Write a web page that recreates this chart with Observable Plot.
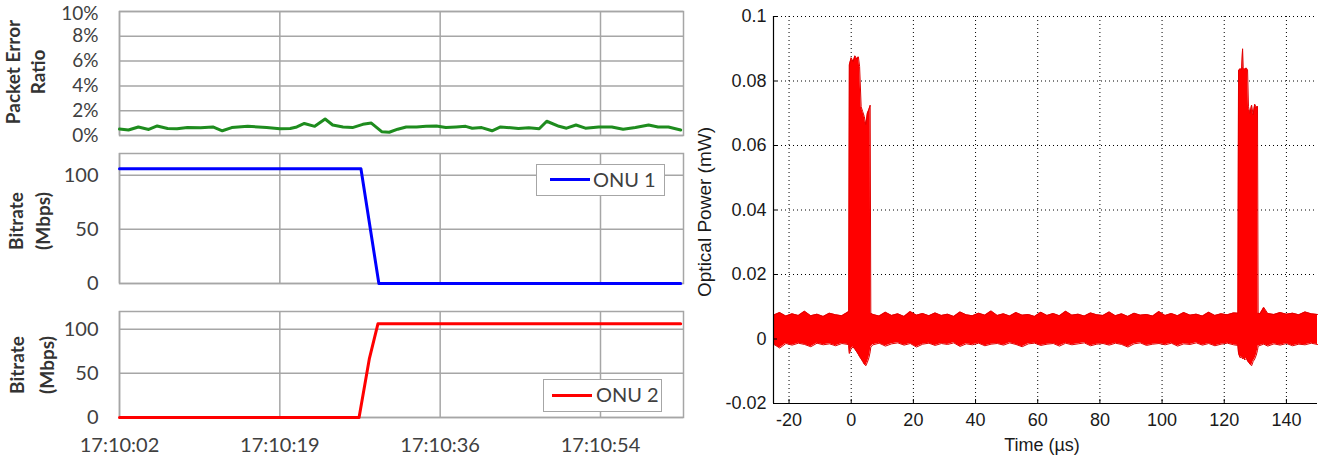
<!DOCTYPE html>
<html><head><meta charset="utf-8">
<script src="https://cdn.jsdelivr.net/npm/d3@7"></script>
<script src="https://cdn.jsdelivr.net/npm/@observablehq/plot@0.6"></script>
<style>
html,body{margin:0;padding:0;background:#fff;}
#root{position:relative;width:1326px;height:459px;overflow:hidden;background:#fff;}
.panel{position:absolute;}
.vtitle{position:absolute;transform:translate(-50%,-50%) rotate(-90deg);white-space:pre;text-align:center;}
.legend{position:absolute;border:1.5px solid #a6a6a6;background:#fff;box-sizing:border-box;font-family:Lato,"Open Sans",sans-serif;font-size:20px;color:#404040;}
.legend .sw{position:absolute;height:3px;width:40px;}
.legend .tx{position:absolute;top:0;line-height:29px;}
</style></head><body><div id="root"></div>
<script>
// ---------- Left panels data ----------
const timeLabels = ["17:10:02", "17:10:19", "17:10:36", "17:10:54"];
const timeTickSec = [0, 17, 34, 51];
const perTicks = [0, 2, 4, 6, 8, 10];
const rateTicks = [0, 50, 100];

const perTime = [0, 0.95, 2.0, 3.1, 4.0, 5.1, 6.1, 7.2, 8.6, 9.9, 10.9, 11.9, 13.6, 15.6, 17.0, 18.1, 18.8, 19.6, 20.7, 21.8,
  22.6, 23.7, 24.7, 25.8, 26.7, 27.8, 28.6, 29.5, 30.4, 31.5, 32.5, 33.6, 34.6, 35.7, 36.7, 37.4, 38.4, 39.5, 40.4, 41.5,
  42.3, 43.4, 44.5, 45.3, 46.6, 47.4, 48.4, 49.4, 50.8, 52.2, 53.4, 54.7, 56.1, 57.1, 58.2, 59.5];
const perPct = [0.52, 0.44, 0.69, 0.49, 0.77, 0.56, 0.54, 0.64, 0.62, 0.69, 0.38, 0.64, 0.74, 0.64, 0.54, 0.56, 0.69, 0.97, 0.74, 1.33,
  0.85, 0.69, 0.64, 0.90, 1.00, 0.31, 0.26, 0.51, 0.69, 0.69, 0.74, 0.77, 0.64, 0.69, 0.74, 0.59, 0.64, 0.38, 0.69, 0.62,
  0.56, 0.62, 0.54, 1.15, 0.74, 0.59, 0.85, 0.59, 0.69, 0.69, 0.51, 0.64, 0.85, 0.69, 0.69, 0.44];

const onu1Time = [0, 25.6, 27.5, 59.5];
const onu1Rate = [106, 106, 0, 0];
const onu2Time = [0, 25.4, 26.5, 27.4, 59.5];
const onu2Rate = [0, 0, 67, 106, 106];

// ---------- Right panel data (optical power envelope, mW) ----------
const oscXTicks = [-20, 0, 20, 40, 60, 80, 100, 120, 140];
const oscYTicks = [-0.02, 0, 0.02, 0.04, 0.06, 0.08, 0.1];
const oscYLabels = ["-0.02", "0", "0.02", "0.04", "0.06", "0.08", "0.1"];

const preT = [-25, -23, -21, -19, -17, -15, -13, -11, -9, -7, -5, -3, -1];
const preHi = [0.0074, 0.0082, 0.0071, 0.0078, 0.0073, 0.0086, 0.0072, 0.0077, 0.0070, 0.0080, 0.0075, 0.0072, 0.0084];
const preLo = [-0.0016, -0.0028, -0.0014, -0.0019, -0.0013, -0.0017, -0.0024, -0.0013, -0.0018, -0.0015, -0.0021, -0.0014, -0.0017];

const burst1T = [-0.8, -0.6, 0.0, 0.6, 1.2, 1.8, 2.3, 2.7, 3.2, 3.7, 4.2, 4.7, 5.2, 5.7, 6.1, 6.3];
const burst1Hi = [0.0085, 0.0850, 0.0872, 0.0860, 0.0878, 0.0868, 0.0875, 0.0845, 0.0720, 0.0705, 0.0690, 0.0665, 0.0700, 0.0712, 0.0725, 0.0080];
const burst1Lo = [-0.0020, -0.0045, -0.0030, -0.0025, -0.0032, -0.0040, -0.0048, -0.0055, -0.0062, -0.0070, -0.0078, -0.0083, -0.0072, -0.0058, -0.0040, -0.0025];

const midT = [7, 9, 11, 13, 15, 17, 19, 21, 23, 25, 27, 29, 31, 33, 35, 37, 39, 41, 43, 45,
  47, 49, 51, 53, 55, 57, 59, 61, 63, 65, 67, 69, 71, 73, 75, 77, 79, 81, 83, 85,
  87, 89, 91, 93, 95, 97, 99, 101, 103, 105, 107, 109, 111, 113, 115, 117, 119, 121, 123];
const midHi = [0.0076, 0.0071, 0.0083, 0.0073, 0.0078, 0.0070, 0.0085, 0.0074, 0.0079, 0.0072,
  0.0081, 0.0073, 0.0077, 0.0070, 0.0084, 0.0075, 0.0072, 0.0080, 0.0074, 0.0087,
  0.0073, 0.0078, 0.0071, 0.0082, 0.0074, 0.0076, 0.0070, 0.0083, 0.0073, 0.0079,
  0.0072, 0.0086, 0.0074, 0.0077, 0.0071, 0.0081, 0.0075, 0.0073, 0.0084, 0.0072,
  0.0078, 0.0070, 0.0080, 0.0074, 0.0076, 0.0071, 0.0085, 0.0073, 0.0079, 0.0072,
  0.0082, 0.0074, 0.0077, 0.0071, 0.0083, 0.0073, 0.0078, 0.0075, 0.0081];
const midLo = [-0.0018, -0.0013, -0.0022, -0.0015, -0.0012, -0.0019, -0.0014, -0.0025, -0.0016, -0.0013,
  -0.0020, -0.0014, -0.0017, -0.0012, -0.0023, -0.0015, -0.0018, -0.0013, -0.0021, -0.0016,
  -0.0014, -0.0019, -0.0012, -0.0017, -0.0024, -0.0015, -0.0013, -0.0020, -0.0016, -0.0014,
  -0.0022, -0.0013, -0.0018, -0.0015, -0.0012, -0.0021, -0.0016, -0.0014, -0.0019, -0.0013,
  -0.0017, -0.0025, -0.0015, -0.0012, -0.0020, -0.0016, -0.0014, -0.0018, -0.0013, -0.0022,
  -0.0015, -0.0017, -0.0012, -0.0019, -0.0014, -0.0021, -0.0016, -0.0013, -0.0018];

const burst2T = [124.4, 124.6, 125.1, 125.6, 125.9, 126.1, 126.6, 127.1, 127.5, 127.8, 128.3, 128.8, 129.3, 129.8, 130.3, 130.7, 130.9];
const burst2Hi = [0.0080, 0.0832, 0.0838, 0.0835, 0.0900, 0.0842, 0.0836, 0.0840, 0.0835, 0.0720, 0.0700, 0.0725, 0.0695, 0.0728, 0.0718, 0.0722, 0.0080];
const burst2Lo = [-0.0020, -0.0045, -0.0058, -0.0055, -0.0062, -0.0057, -0.0065, -0.0060, -0.0068, -0.0072, -0.0078, -0.0083, -0.0070, -0.0062, -0.0050, -0.0035, -0.0022];

const postT = [131.5, 132.7, 134, 136, 138, 140, 142, 144, 146, 148, 150];
const postHi = [0.0078, 0.0098, 0.0079, 0.0076, 0.0082, 0.0077, 0.0080, 0.0075, 0.0084, 0.0078, 0.0076];
const postLo = [-0.0020, -0.0016, -0.0022, -0.0015, -0.0019, -0.0014, -0.0021, -0.0016, -0.0018, -0.0013, -0.0017];

// ---------- build tables ----------
const zip2 = (xs, ys) => xs.map((x, i) => ({x, y: ys[i]}));
const perData = zip2(perTime, perPct);
const onu1Data = zip2(onu1Time, onu1Rate);
const onu2Data = zip2(onu2Time, onu2Rate);
const oscT = [...preT, ...burst1T, ...midT, ...burst2T, ...postT];
const oscHi = [...preHi, ...burst1Hi, ...midHi, ...burst2Hi, ...postHi];
const oscLo = [...preLo, ...burst1Lo, ...midLo, ...burst2Lo, ...postLo];
const oscData = oscT.map((t, i) => ({t, hi: oscHi[i], lo: oscLo[i]}));

const root = document.getElementById("root");
const gray = "#a6a6a6";
const leftFont = "Lato, 'Open Sans', sans-serif";
const leftStyle = {fontFamily: leftFont, fontSize: "20px", color: "#404040", background: "transparent", overflow: "visible"};
const gridOpts = {stroke: gray, strokeOpacity: 1, strokeWidth: 1.5};

function place(el, left, top) {
  const wrap = document.createElement("div");
  wrap.className = "panel";
  wrap.style.left = left + "px";
  wrap.style.top = top + "px";
  wrap.appendChild(el);
  root.appendChild(wrap);
}

// Panel 1: Packet error ratio
const perTop = perTicks[perTicks.length - 1];
place(Plot.plot({
  width: 700, height: 145, marginLeft: 119, marginRight: 17, marginTop: 11, marginBottom: 10,
  style: {...leftStyle, fontSize: "19px"},
  x: {domain: [0, 59.8], axis: null, label: null},
  y: {domain: [0, 10], axis: null, label: null},
  marks: [
    Plot.gridX(timeTickSec, gridOpts),
    Plot.gridY(perTicks, gridOpts),
    Plot.frame({stroke: gray, strokeWidth: 1.5}),
    Plot.axisY(perTicks.filter(d => d !== perTop), {tickSize: 0, tickPadding: 21, tickFormat: d => d + "%", label: null}),
    Plot.axisY([perTop], {tickSize: 0, tickPadding: 21, dy: 2, tickFormat: d => d + "%", label: null}),
    Plot.line(perData, {x: "x", y: "y", stroke: "#1e8c1e", strokeWidth: 3, strokeLinejoin: "round"})
  ]
}), 0, 0);

// Panel 2: ONU 1
place(Plot.plot({
  width: 700, height: 150, marginLeft: 119, marginRight: 17, marginTop: 8, marginBottom: 12,
  style: leftStyle,
  x: {domain: [0, 59.8], axis: null, label: null},
  y: {domain: [0, 120], axis: null, label: null},
  marks: [
    Plot.gridX(timeTickSec, gridOpts),
    Plot.gridY(rateTicks, gridOpts),
    Plot.frame({stroke: gray, strokeWidth: 1.5}),
    Plot.axisY(rateTicks, {tickSize: 0, tickPadding: 21, label: null}),
    Plot.line(onu1Data, {x: "x", y: "y", stroke: "#0000ff", strokeWidth: 3})
  ]
}), 0, 145);

// Panel 3: ONU 2
place(Plot.plot({
  width: 700, height: 164, marginLeft: 119, marginRight: 17, marginTop: 16, marginBottom: 42,
  style: leftStyle,
  x: {domain: [0, 59.8], axis: null, label: null},
  y: {domain: [0, 120], axis: null, label: null},
  marks: [
    Plot.gridX(timeTickSec, gridOpts),
    Plot.gridY(rateTicks, gridOpts),
    Plot.frame({stroke: gray, strokeWidth: 1.5}),
    Plot.axisY(rateTicks, {tickSize: 0, tickPadding: 21, label: null}),
    Plot.axisX(timeTickSec, {tickSize: 0, tickPadding: 20, label: null, tickFormat: d => timeLabels[timeTickSec.indexOf(d)]}),
    Plot.line(onu2Data, {x: "x", y: "y", stroke: "#ff0000", strokeWidth: 3})
  ]
}), 0, 295);

// Right panel: optical power
const tickLenY = 0.12 / 386.7 * 4;
const tickLenX = 175 / 544 * 4;
place(Plot.plot({
  width: 636, height: 459, marginLeft: 83, marginRight: 9, marginTop: 16, marginBottom: 56,
  style: {fontFamily: "'Liberation Sans', Arial, sans-serif", fontSize: "18px", color: "#1a1a1a", background: "transparent", overflow: "visible"},
  x: {domain: [-25, 150], axis: null, label: null},
  y: {domain: [-0.02, 0.1], axis: null, label: null},
  marks: [
    Plot.gridX(oscXTicks, {stroke: "#000", strokeOpacity: 1, strokeWidth: 1, strokeDasharray: "1,3"}),
    Plot.gridY(oscYTicks, {stroke: "#000", strokeOpacity: 1, strokeWidth: 1, strokeDasharray: "1,3"}),
    Plot.areaY(oscData, {x: "t", y1: "lo", y2: "hi", fill: "#ff0000"}),
    Plot.line(oscData, {x: "t", y: "hi", stroke: "#e00000", strokeWidth: 1}),
    Plot.line(oscData, {x: "t", y: "lo", stroke: "#e00000", strokeWidth: 1}),
    Plot.ruleX(oscXTicks, {y1: -0.02, y2: -0.02 + tickLenY, stroke: "#000"}),
    Plot.ruleY(oscYTicks, {x1: -25, x2: -25 + tickLenX, stroke: "#000"}),
    Plot.ruleX([-25], {y1: -0.02, y2: 0.1, stroke: "#000", strokeWidth: 1.2}),
    Plot.ruleY([-0.02], {x1: -25, x2: 150, stroke: "#000", strokeWidth: 1.2}),
    Plot.axisX(oscXTicks, {tickSize: 0, tickPadding: 10, label: null, tickFormat: d => String(d)}),
    Plot.axisY(oscYTicks, {tickSize: 0, tickPadding: 7, label: null, tickFormat: d => oscYLabels[oscYTicks.indexOf(d)]})
  ]
}), 690, 0);

// ---------- HTML titles and legends ----------
function vtitle(text, cx, cy, css) {
  const d = document.createElement("div");
  d.className = "vtitle";
  d.textContent = text;
  d.style.left = cx + "px";
  d.style.top = cy + "px";
  Object.assign(d.style, css);
  root.appendChild(d);
}
const boldCss = {fontFamily: leftFont, fontWeight: "bold", fontSize: "19px", color: "#333"};
vtitle("Packet Error\nRatio", 24.5, 72, {...boldCss, lineHeight: "25px"});
vtitle("Bitrate\n(Mbps)", 28.5, 221, {...boldCss, lineHeight: "27px"});
vtitle("Bitrate\n(Mbps)", 32, 365, {...boldCss, lineHeight: "30px"});
vtitle("Optical Power (mW)", 705, 212, {fontFamily: "'Liberation Sans', Arial, sans-serif", fontSize: "19px", color: "#1a1a1a"});

const tl = document.createElement("div");
tl.textContent = "Time (µs)";
Object.assign(tl.style, {position: "absolute", left: "1042px", top: "445px", transform: "translate(-50%,-50%)", fontFamily: "'Liberation Sans', Arial, sans-serif", fontSize: "18px", color: "#1a1a1a", whiteSpace: "nowrap"});
root.appendChild(tl);

function legend(label, color, left, top, w, h, swLeft, txLeft) {
  const b = document.createElement("div");
  b.className = "legend";
  Object.assign(b.style, {left: left + "px", top: top + "px", width: w + "px", height: h + "px"});
  const sw = document.createElement("div");
  sw.className = "sw";
  Object.assign(sw.style, {left: swLeft + "px", top: (h / 2 - 3) + "px", background: color});
  const tx = document.createElement("div");
  tx.className = "tx";
  tx.textContent = label;
  tx.style.left = txLeft + "px";
  b.appendChild(sw); b.appendChild(tx);
  root.appendChild(b);
}
legend("ONU 1", "#0000ff", 536, 164, 129, 32, 13, 56);
legend("ONU 2", "#ff0000", 543, 379, 119, 33, 8, 52);
</script>
</body></html>
